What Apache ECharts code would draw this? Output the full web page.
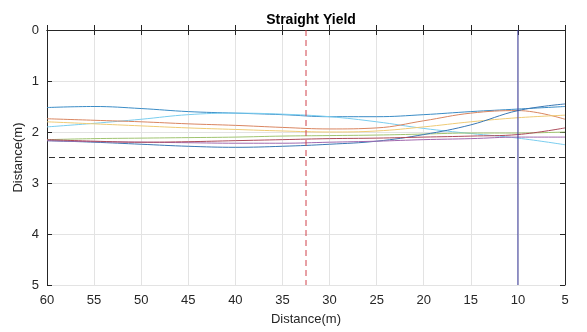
<!DOCTYPE html>
<html><head><meta charset="utf-8">
<script src="https://cdn.jsdelivr.net/npm/echarts@6/dist/echarts.min.js"></script>
<style>html,body{margin:0;padding:0;background:#fff}#c{width:587px;height:332px}</style>
</head><body><div id="c"></div>
<script>
const distances = [60,55,50,45,40,35,30,25,20,15,10,5];
const lineA = [1.52,1.50,1.54,1.60,1.63,1.66,1.70,1.70,1.66,1.60,1.55,1.50];
const lineB = [1.90,1.83,1.75,1.66,1.63,1.65,1.70,1.80,1.93,2.03,2.12,2.25];
const lineC = [1.74,1.77,1.80,1.84,1.87,1.91,1.94,1.92,1.78,1.63,1.58,1.75];
const lineD = [1.80,1.84,1.88,1.92,1.95,1.98,2.00,1.98,1.90,1.80,1.72,1.67];
const lineE = [2.15,2.13,2.12,2.11,2.10,2.08,2.07,2.06,2.04,2.02,2.02,2.00];
const lineF = [2.17,2.20,2.24,2.28,2.30,2.28,2.24,2.18,2.05,1.86,1.58,1.45];
const lineG = [2.17,2.19,2.20,2.21,2.22,2.22,2.20,2.18,2.15,2.13,2.10,2.10];
const lineH = [2.15,2.18,2.20,2.19,2.17,2.15,2.13,2.12,2.10,2.08,2.05,1.92];
const redDashX = 32.5;
const blueLineX = 10;
const blackDashY = 2.5;

const series = [
  {d: lineA, c: '#3a8cc6'},
  {d: lineB, c: '#7acdef'},
  {d: lineC, c: '#d98560'},
  {d: lineD, c: '#efcb75'},
  {d: lineE, c: '#a0c470'},
  {d: lineF, c: '#3a78b4'},
  {d: lineG, c: '#a068ae'},
  {d: lineH, c: '#ac4a5a'}
];
const mk = (d) => distances.map((x,i)=>[x,d[i]]);
const axisCol = '#262626';
const opt = {
  animation:false,
  title:{text:'Straight Yield', left:306, top:8, textAlign:'center',
    textStyle:{fontFamily:'Liberation Sans', fontSize:14, fontWeight:'bold', color:'#000'}},
  grid:{left:47, right:22, top:30, bottom:47, outerBoundsMode:'none', containLabel:false},
  xAxis:[{type:'value', inverse:true, min:5, max:60, interval:5,
    name:'Distance(m)', nameLocation:'middle', nameGap:28, nameMoveOverlap:false,
    nameTextStyle:{fontFamily:'Liberation Sans', fontSize:13, color:axisCol},
    axisLine:{show:true, lineStyle:{color:axisCol, width:1}},
    axisTick:{show:true, inside:true, length:5, lineStyle:{color:axisCol}},
    axisLabel:{fontFamily:'Liberation Sans', fontSize:13, color:axisCol, margin:9},
    splitLine:{show:true, lineStyle:{color:'#e3e3e3', width:1}}},
   {type:'value', inverse:true, min:5, max:60, interval:5, position:'top',
    axisLine:{show:true, lineStyle:{color:axisCol, width:1}},
    axisTick:{show:true, inside:true, length:5, lineStyle:{color:axisCol}},
    axisLabel:{show:false}, splitLine:{show:false}}],
  yAxis:[{type:'value', inverse:true, min:0, max:5, interval:1,
    name:'Distance(m)', nameLocation:'middle', nameGap:22, nameMoveOverlap:false,
    nameTextStyle:{fontFamily:'Liberation Sans', fontSize:13, color:axisCol},
    axisLine:{show:true, lineStyle:{color:axisCol, width:1}},
    axisTick:{show:true, inside:true, length:5, lineStyle:{color:axisCol}},
    axisLabel:{fontFamily:'Liberation Sans', fontSize:13, color:axisCol, margin:8},
    splitLine:{show:true, lineStyle:{color:'#e3e3e3', width:1}}},
   {type:'value', inverse:true, min:0, max:5, interval:1, position:'right',
    axisLine:{show:true, lineStyle:{color:axisCol, width:1}},
    axisTick:{show:true, inside:true, length:5, lineStyle:{color:axisCol}},
    axisLabel:{show:false}, splitLine:{show:false}}],
  series: [
    ...series.map(s=>({type:'line', data:mk(s.d), smooth:0.4, showSymbol:false,
      lineStyle:{color:s.c, width:1}})),
    {type:'line', data:[[redDashX,0],[redDashX,5]], showSymbol:false,
      lineStyle:{color:'#d0404a', width:1, type:[6,4]}},
    {type:'line', data:[[blueLineX,0],[blueLineX,5]], showSymbol:false,
      lineStyle:{color:'#3a3a9a', width:1}},
    {type:'line', data:[[5,blackDashY],[60,blackDashY]], showSymbol:false,
      lineStyle:{color:'#333', width:1, type:[6,4]}}
  ]
};
echarts.init(document.getElementById('c')).setOption(opt);
</script></body></html>
